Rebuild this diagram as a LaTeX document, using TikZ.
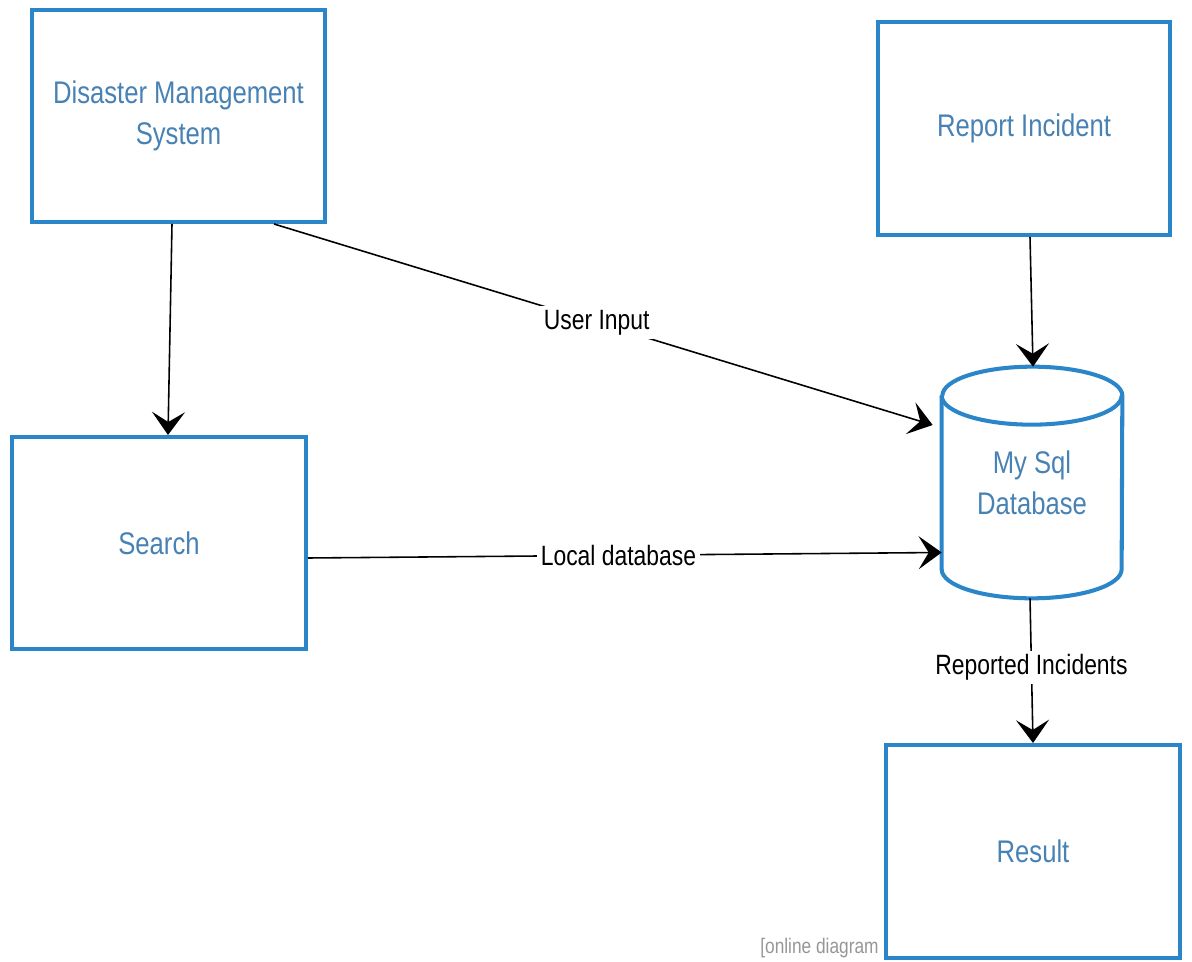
\documentclass[tikz,border=0pt]{standalone}
\usepackage{fontspec}
\setmainfont{Liberation Sans}[FakeStretch=0.82]
\usetikzlibrary{arrows.meta}
\definecolor{boxblue}{RGB}{42,134,200}
\definecolor{txtblue}{RGB}{72,130,180}
\definecolor{wmgray}{RGB}{150,150,150}
\tikzset{
  boxnode/.style={draw=boxblue, line width=2.3pt, fill=white, text=txtblue,
    font=\fontsize{17.8}{23.3}\selectfont, align=center, inner sep=0pt},
  arr/.style={draw=black, line width=0.9pt, -{Stealth[length=0.46cm,width=0.66cm,inset=0.2cm]}},
  lbl/.style={fill=white, text=black, font=\fontsize{15.9}{19}\selectfont, inner sep=2pt},
  cylline/.style={draw=boxblue, line width=2.3pt}
}
\begin{document}
\begin{tikzpicture}[x=0.02cm,y=-0.02cm]
\useasboundingbox (0,0) rectangle (1192,962);
% watermark
\node[text=wmgray, font=\fontsize{12}{14}\selectfont, anchor=base west, inner sep=0pt] (wm) at (760,953) {[online diagram};
% boxes
\node[boxnode, minimum width=5.86cm, minimum height=4.24cm] (dms) at (178.5,116) {Disaster Management\\System};
\node[boxnode, minimum width=5.84cm, minimum height=4.26cm] (report) at (1024,128.5) {Report Incident};
\node[boxnode, minimum width=5.88cm, minimum height=4.24cm] (search) at (159,543) {Search};
\node[boxnode, minimum width=5.88cm, minimum height=4.26cm] (result) at (1033,851.5) {Result};
% database cylinder
\node[draw=none, minimum width=3.6cm, minimum height=4.62cm, text=txtblue,
  font=\fontsize{17.8}{23.3}\selectfont, align=center, inner sep=0pt] (db) at (1032,482.5) {My Sql\\Database};
\draw[cylline] ([yshift=-0.58cm]db.north west) -- ([yshift=0.58cm]db.south west)
  arc[start angle=180,end angle=360,x radius=1.8cm,y radius=0.58cm]
  -- ([yshift=-0.58cm]db.north east)
  arc[start angle=0,end angle=180,x radius=1.8cm,y radius=0.58cm];
\draw[cylline] ([yshift=-0.58cm]db.north west)
  arc[start angle=180,end angle=360,x radius=1.8cm,y radius=0.58cm];
% connectors
\draw[arr] ([xshift=-0.13cm]dms.south) -- ([xshift=0.18cm]search.north);
\draw[arr] ([xshift=-1.06cm]dms.south east) -- node[lbl, pos=0.49] {User Input} ([xshift=-0.18cm,yshift=1.15cm]db.west);
\draw[arr] ([yshift=-0.3cm]search.east) -- node[lbl, pos=0.49] {Local database} ([yshift=-1.4cm]db.west);
\draw[arr] ([xshift=0.12cm]report.south) -- ([xshift=0.02cm]db.north);
\draw[arr] ([xshift=-0.04cm]db.south) -- node[lbl, pos=0.48] {Reported Incidents} (result.north);
\end{tikzpicture}
\end{document}
